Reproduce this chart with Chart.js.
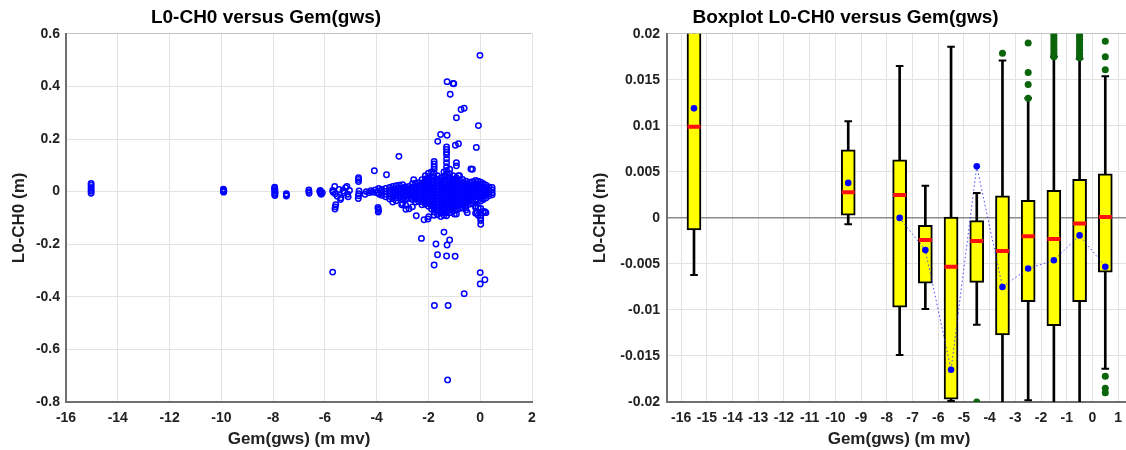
<!DOCTYPE html>
<html>
<head>
<meta charset="utf-8">
<script src="https://cdn.jsdelivr.net/npm/chart.js@4.4.1/dist/chart.umd.min.js"></script>
<style>
  html, body { margin: 0; padding: 0; background: #fff; overflow: hidden; width: 1126px; height: 450px; }
  #wrapL { position: absolute; left: 0; top: 0; width: 600px; height: 450px; }
  #wrapR { position: absolute; left: 560px; top: 0; width: 678px; height: 450px; }
</style>
</head>
<body>
<div id="wrapL"><canvas id="scatterChart"></canvas></div>
<div id="wrapR"><canvas id="boxChart"></canvas></div>
<script>
// ---- left panel: L0-CH0 versus Gem(gws) ----
const bandPts = [
  [-15.03, 0.031], [-15.03, 0.024], [-15.03, 0.016], [-15.03, 0.008], [-15.03, 0.001], [-15.03, -0.006],
  [-9.92, 0.009], [-9.92, 0.005], [-9.90, 0.002], [-9.91, -0.002], [-9.92, 0.000],
  [-7.94, 0.017], [-7.94, 0.012], [-7.93, 0.007], [-7.94, 0.002], [-7.92, -0.004], [-7.94, -0.010], [-7.93, -0.015],
  [-7.49, -0.008], [-7.48, -0.013], [-7.49, -0.017],
  [-6.62, 0.006], [-6.62, 0.000], [-6.61, -0.006],
  [-6.18, 0.004], [-6.16, -0.001], [-6.17, -0.006], [-6.14, -0.010], [-6.10, -0.004], [-6.20, 0.001],
  [-5.70, 0.004], [-5.68, -0.002], [-5.62, 0.020], [-5.60, -0.008], [-5.58, -0.050], [-5.60, -0.058], [-5.61, -0.066],
  [-5.52, -0.018], [-5.45, 0.008], [-5.40, -0.030], [-5.38, -0.024], [-5.30, 0.002], [-5.25, -0.005], [-5.20, 0.015],
  [-5.15, 0.020], [-5.12, -0.010], [-5.10, -0.020], [-5.05, 0.004],
  [-4.70, 0.053], [-4.70, 0.046], [-4.70, 0.038], [-4.68, 0.002], [-4.69, -0.008], [-4.70, -0.016], [-4.71, -0.026],
  [-4.45, -0.010], [-4.40, 0.000], [-4.30, -0.004], [-4.22, 0.003], [-4.15, -0.002], [-4.05, 0.006], [-4.00, -0.004],
  [-3.95, -0.060], [-3.94, -0.066], [-3.93, -0.072], [-3.94, -0.078], [-3.92, 0.012], [-3.90, -0.010], [-3.85, 0.003]
];

const clusterCols = [
  [-3.80, [0.008, -0.004, -0.014]],
  [-3.65, [0.012, 0.001, -0.010, -0.020]],
  [-3.50, [0.016, 0.004, -0.007, -0.018, -0.028]],
  [-3.38, [0.020, 0.008, -0.003, -0.015, -0.026, -0.040]],
  [-3.25, [0.022, 0.010, -0.002, -0.013, -0.024, -0.035]],
  [-3.12, [0.024, 0.012, 0.001, -0.011, -0.022]],
  [-3.00, [0.026, 0.014, 0.002, -0.009, -0.020, -0.031, -0.045]],
  [-2.88, [0.018, 0.006, -0.006, -0.017, -0.028, -0.052]],
  [-2.75, [0.020, 0.009, -0.003, -0.014, -0.026, -0.065]],
  [-2.62, [0.030, 0.017, 0.005, -0.006, -0.018, -0.030, -0.058]],
  [-2.50, [0.032, 0.020, 0.008, -0.004, -0.016, -0.028, -0.040]],
  [-2.38, [0.034, 0.022, 0.010, -0.002, -0.014, -0.026, -0.038]],
  [-2.25, [0.045, 0.033, 0.021, 0.009, -0.003, -0.015, -0.027, -0.039, -0.050]],
  [-2.12, [0.060, 0.048, 0.036, 0.024, 0.012, 0.000, -0.012, -0.024, -0.036, -0.048]],
  [-2.00, [0.070, 0.052, 0.040, 0.028, 0.016, 0.004, -0.008, -0.020, -0.032, -0.044, -0.056]],
  [-1.88, [0.075, 0.058, 0.044, 0.030, 0.018, 0.006, -0.006, -0.018, -0.030, -0.042, -0.054, -0.066]],
  [-1.78, [0.115, 0.105, 0.095, 0.085, 0.070, 0.055, 0.042, 0.030, 0.018, 0.006, -0.006, -0.018, -0.030, -0.042, -0.054, -0.066, -0.078, -0.090]],
  [-1.65, [0.060, 0.046, 0.034, 0.022, 0.010, -0.002, -0.014, -0.026, -0.038, -0.050, -0.062, -0.074, -0.088]],
  [-1.52, [0.052, 0.040, 0.028, 0.016, 0.004, -0.008, -0.020, -0.032, -0.044, -0.056, -0.068, -0.080, -0.095]],
  [-1.40, [0.075, 0.058, 0.044, 0.030, 0.018, 0.006, -0.006, -0.018, -0.030, -0.042, -0.054, -0.066, -0.078, -0.090]],
  [-1.30, [0.170, 0.160, 0.150, 0.140, 0.125, 0.110, 0.095, 0.080, 0.068, 0.055, 0.042, 0.030, 0.018, 0.006, -0.006, -0.018, -0.030, -0.042, -0.054, -0.066, -0.080, -0.092]],
  [-1.18, [0.085, 0.068, 0.054, 0.040, 0.028, 0.016, 0.004, -0.008, -0.020, -0.032, -0.044, -0.056, -0.068, -0.080]],
  [-1.05, [0.060, 0.046, 0.034, 0.022, 0.010, -0.002, -0.014, -0.026, -0.038, -0.050, -0.062, -0.075]],
  [-0.92, [0.110, 0.098, 0.052, 0.040, 0.028, 0.016, 0.004, -0.008, -0.020, -0.032, -0.044, -0.056, -0.068, -0.085]],
  [-0.80, [0.060, 0.044, 0.032, 0.020, 0.008, -0.004, -0.016, -0.028, -0.040, -0.052, -0.064]],
  [-0.68, [0.046, 0.034, 0.022, 0.010, -0.002, -0.014, -0.026, -0.038, -0.050, -0.062]],
  [-0.55, [0.040, 0.028, 0.016, 0.004, -0.008, -0.020, -0.032, -0.044, -0.056, -0.070]],
  [-0.42, [0.036, 0.024, 0.012, 0.000, -0.012, -0.024, -0.036, -0.048]],
  [-0.30, [0.085, 0.038, 0.026, 0.014, 0.002, -0.010, -0.022, -0.034, -0.046]],
  [-0.18, [0.042, 0.030, 0.018, 0.006, -0.006, -0.018, -0.030, -0.055, -0.082]],
  [-0.08, [0.040, 0.028, 0.016, 0.004, -0.008, -0.020, -0.032, -0.060, -0.090]],
  [0.02, [0.036, 0.024, 0.012, 0.000, -0.012, -0.024, -0.036, -0.064, -0.090, -0.100, -0.110, -0.124]],
  [0.12, [0.030, 0.018, 0.006, -0.006, -0.018, -0.030, -0.075]],
  [0.22, [0.024, 0.012, 0.000, -0.012, -0.024, -0.080]],
  [0.34, [0.018, 0.006, -0.006, -0.016]],
  [0.46, [0.016, 0.006, -0.004, -0.012]]
];

const outlierPts = [
  [-0.01, 0.518], [-1.28, 0.418], [-1.05, 0.411], [-1.02, 0.410], [-1.16, 0.370], [-0.62, 0.317], [-0.74, 0.312],
  [-0.92, 0.281], [-0.07, 0.251], [-1.53, 0.217], [-1.28, 0.214], [-1.64, 0.191], [-0.15, 0.168], [-0.84, 0.182],
  [-0.96, 0.176], [-3.14, 0.134], [-4.09, 0.079], [-3.62, 0.064], [-2.57, 0.045], [-0.36, 0.086], [-0.84, 0.060],
  [-2.47, -0.092], [-2.17, -0.107], [-1.99, -0.095], [-2.02, -0.104], [-2.27, -0.178], [-1.40, -0.154],
  [-1.18, -0.184], [-1.28, -0.203], [-1.71, -0.199], [-1.65, -0.240], [-1.30, -0.245], [-0.97, -0.246],
  [-1.78, -0.279], [-5.70, -0.306], [0.00, -0.308], [0.18, -0.335], [0.00, -0.351], [-0.62, -0.388],
  [-1.77, -0.433], [-1.24, -0.433], [-1.26, -0.716], [-2.87, -0.067], [-3.03, -0.050], [-0.18, -0.060],
  [0.18, -0.076], [-1.00, -0.085], [-0.50, -0.080], [-0.13, -0.082]
];

// ---- right panel: boxplot per 1 m bin ----
const binCenters = [-15.5, -9.5, -7.5, -6.5, -5.5, -4.5, -3.5, -2.5, -1.5, -0.5, 0.5];
const q1Vals     = [-0.0013, 0.0003, -0.0097, -0.0071, -0.0197, -0.0070, -0.0127, -0.0091, -0.0117, -0.0091, -0.0059];
const q3Vals     = [0.0310, 0.0074, 0.0063, -0.0008, 0.0001, -0.0003, 0.0024, 0.0019, 0.0030, 0.0042, 0.0048];
const medianVals = [0.0099, 0.0028, 0.0025, -0.0024, -0.0053, -0.0025, -0.0036, -0.0020, -0.0023, -0.0006, 0.0001];
const meanVals   = [0.0119, 0.0038, 0.0000, -0.0035, -0.0165, 0.0056, -0.0075, -0.0055, -0.0046, -0.0019, -0.0053];
const whiskLo    = [-0.0062, -0.0007, -0.0149, -0.0099, -0.0199, -0.0116, -0.0300, -0.0198, -0.0300, -0.0300, -0.0164];
const whiskHi    = [0.0450, 0.0105, 0.0165, 0.0035, 0.0186, 0.0027, 0.0171, 0.0130, 0.0175, 0.0173, 0.0154];
const boxOutliers = [
  [-4.5, [-0.0200]],
  [-3.5, [0.0179]],
  [-2.5, [0.0190, 0.0158, 0.0145, 0.0130]],
  [-1.5, [0.0201, 0.0198, 0.0195, 0.0192, 0.0189, 0.0186, 0.0183, 0.0180, 0.0177, 0.0175]],
  [-0.5, [0.0200, 0.0197, 0.0194, 0.0191, 0.0188, 0.0185, 0.0182, 0.0179, 0.0176, 0.0174]],
  [0.5, [0.0192, 0.0175, 0.0161, -0.0172, -0.0185, -0.0190]]
];
const meanLineFrom = 2; // dotted mean line only joins the consecutive bins

const leftXTicks = [-16, -14, -12, -10, -8, -6, -4, -2, 0, 2];
const rightXTicks = [-16, -15, -14, -13, -12, -11, -10, -9, -8, -7, -6, -5, -4, -3, -2, -1, 0, 1];

const FONT = "'Liberation Sans', Arial, sans-serif";
const tickFont = { family: FONT, size: 14, weight: 'bold' };
const axisTitleFont = { family: FONT, size: 17, weight: 'bold' };
const titleFont = { family: FONT, size: 19, weight: 'bold' };
const fmt = v => String(+Number(v).toFixed(4));

const scatterData = [];
bandPts.forEach(p => scatterData.push({ x: p[0], y: p[1] }));
clusterCols.forEach(c => c[1].forEach(y => scatterData.push({ x: c[0], y: y })));
outlierPts.forEach(p => scatterData.push({ x: p[0], y: p[1] }));

new Chart(document.getElementById('scatterChart'), {
  type: 'scatter',
  data: {
    datasets: [{
      data: scatterData,
      pointRadius: 2.7,
      pointBorderWidth: 1.5,
      borderColor: '#0000ff',
      backgroundColor: 'rgba(0,0,0,0)',
      pointStyle: 'circle'
    }]
  },
  options: {
    responsive: true,
    maintainAspectRatio: false,
    animation: false,
    layout: { padding: { left: 0, right: 68, top: 0, bottom: 0 } },
    plugins: {
      legend: { display: false },
      tooltip: { enabled: false },
      title: {
        display: true,
        text: 'L0-CH0 versus Gem(gws)',
        color: '#000',
        font: titleFont,
        padding: { top: 6, bottom: 5 }
      }
    },
    scales: {
      x: {
        type: 'linear', min: -16, max: 2,
        afterBuildTicks: s => { s.ticks = leftXTicks.map(v => ({ value: v })); },
        afterFit: s => { s.height = 48; },
        ticks: { font: tickFont, color: '#222', padding: 8, callback: fmt, maxRotation: 0 },
        grid: { color: '#e2e2e2', drawTicks: false },
        border: { color: '#707070', width: 2 },
        title: { display: true, text: 'Gem(gws) (m mv)', font: axisTitleFont, color: '#222', padding: { top: 0, bottom: 0 } }
      },
      y: {
        type: 'linear', min: -0.8, max: 0.6,
        ticks: { stepSize: 0.2, font: tickFont, color: '#222', padding: 6, callback: fmt },
        afterFit: s => { s.width = 66; },
        grid: { color: c => c.tick.value >= 0.6 ? '#c4c4c4' : '#e2e2e2', drawTicks: false },
        border: { color: '#707070', width: 2 },
        title: { display: true, text: 'L0-CH0 (m)', font: axisTitleFont, color: '#222', padding: { top: 9, bottom: 0 } }
      }
    }
  }
});

const whiskerData = binCenters.map((x, i) => ({ x: x, y: [whiskLo[i], whiskHi[i]] }));
const boxData = binCenters.map((x, i) => ({ x: x, y: [q1Vals[i], q3Vals[i]] }));
const capData = [];
binCenters.forEach((x, i) => { capData.push({ x: x, y: whiskLo[i] }); capData.push({ x: x, y: whiskHi[i] }); });
const medianData = binCenters.map((x, i) => ({ x: x, y: medianVals[i] }));
const meanData = binCenters.map((x, i) => ({ x: x, y: meanVals[i] }));
const meanLineData = meanData.slice(meanLineFrom);
const outlierData = [];
boxOutliers.forEach(b => b[1].forEach(y => outlierData.push({ x: b[0], y: y })));

new Chart(document.getElementById('boxChart'), {
  type: 'bar',
  data: {
    datasets: [
      { type: 'bar', data: whiskerData, backgroundColor: '#000', borderWidth: 0, barThickness: 2, grouped: false, order: 6 },
      { type: 'bar', data: boxData, backgroundColor: '#ffff00', borderColor: '#000', borderWidth: 2,
        borderSkipped: false, barThickness: 14, grouped: false, order: 5 },
      { type: 'line', data: meanLineData, borderColor: 'rgba(40,40,255,0.85)', borderWidth: 1,
        borderDash: [1.5, 2.5], pointRadius: 0, fill: false, tension: 0, order: 4 },
      { type: 'scatter', data: capData, pointStyle: 'line', pointRadius: 3.8, borderColor: '#000',
        pointBorderWidth: 2, order: 3 },
      { type: 'scatter', data: medianData, pointStyle: 'line', pointRadius: 6.5, borderColor: '#ff1010',
        pointBorderWidth: 4, order: 2 },
      { type: 'scatter', data: meanData, pointStyle: 'circle', pointRadius: 3.3, backgroundColor: '#0000ff',
        borderColor: '#0000ff', pointBorderWidth: 0, order: 1 },
      { type: 'scatter', data: outlierData, pointStyle: 'circle', pointRadius: 3.5, backgroundColor: '#0b650b',
        borderColor: '#0b650b', pointBorderWidth: 0, order: 1 }
    ]
  },
  options: {
    responsive: true,
    maintainAspectRatio: false,
    animation: false,
    layout: { padding: { left: 0, right: 107, top: 0, bottom: 0 } },
    plugins: {
      legend: { display: false },
      tooltip: { enabled: false },
      title: {
        display: true,
        text: 'Boxplot L0-CH0 versus Gem(gws)',
        color: '#000',
        font: titleFont,
        padding: { top: 6, bottom: 5 }
      }
    },
    scales: {
      x: {
        type: 'linear', min: -16.55, max: 1.5, offset: false,
        afterBuildTicks: s => { s.ticks = rightXTicks.map(v => ({ value: v })); },
        afterFit: s => { s.height = 48; },
        ticks: { font: tickFont, color: '#222', padding: 8, callback: fmt, maxRotation: 0, autoSkip: false },
        grid: { color: '#e2e2e2', drawTicks: false, offset: false },
        border: { color: '#707070', width: 2 },
        title: { display: true, text: 'Gem(gws) (m mv)', font: axisTitleFont, color: '#222', padding: { top: 0, bottom: 0 } }
      },
      y: {
        type: 'linear', min: -0.02, max: 0.02,
        ticks: { stepSize: 0.005, font: tickFont, color: '#222', padding: 7, callback: fmt },
        afterFit: s => { s.width = 107; },
        grid: {
          color: c => c.tick.value === 0 ? '#8c8c8c' : (c.tick.value >= 0.02 ? '#c4c4c4' : '#e2e2e2'),
          lineWidth: c => c.tick.value === 0 ? 1.5 : 1,
          drawTicks: false
        },
        border: { color: '#707070', width: 2 },
        title: { display: true, text: 'L0-CH0 (m)', font: axisTitleFont, color: '#222', padding: { top: 30, bottom: 0 } }
      }
    }
  }
});
</script>
</body>
</html>
